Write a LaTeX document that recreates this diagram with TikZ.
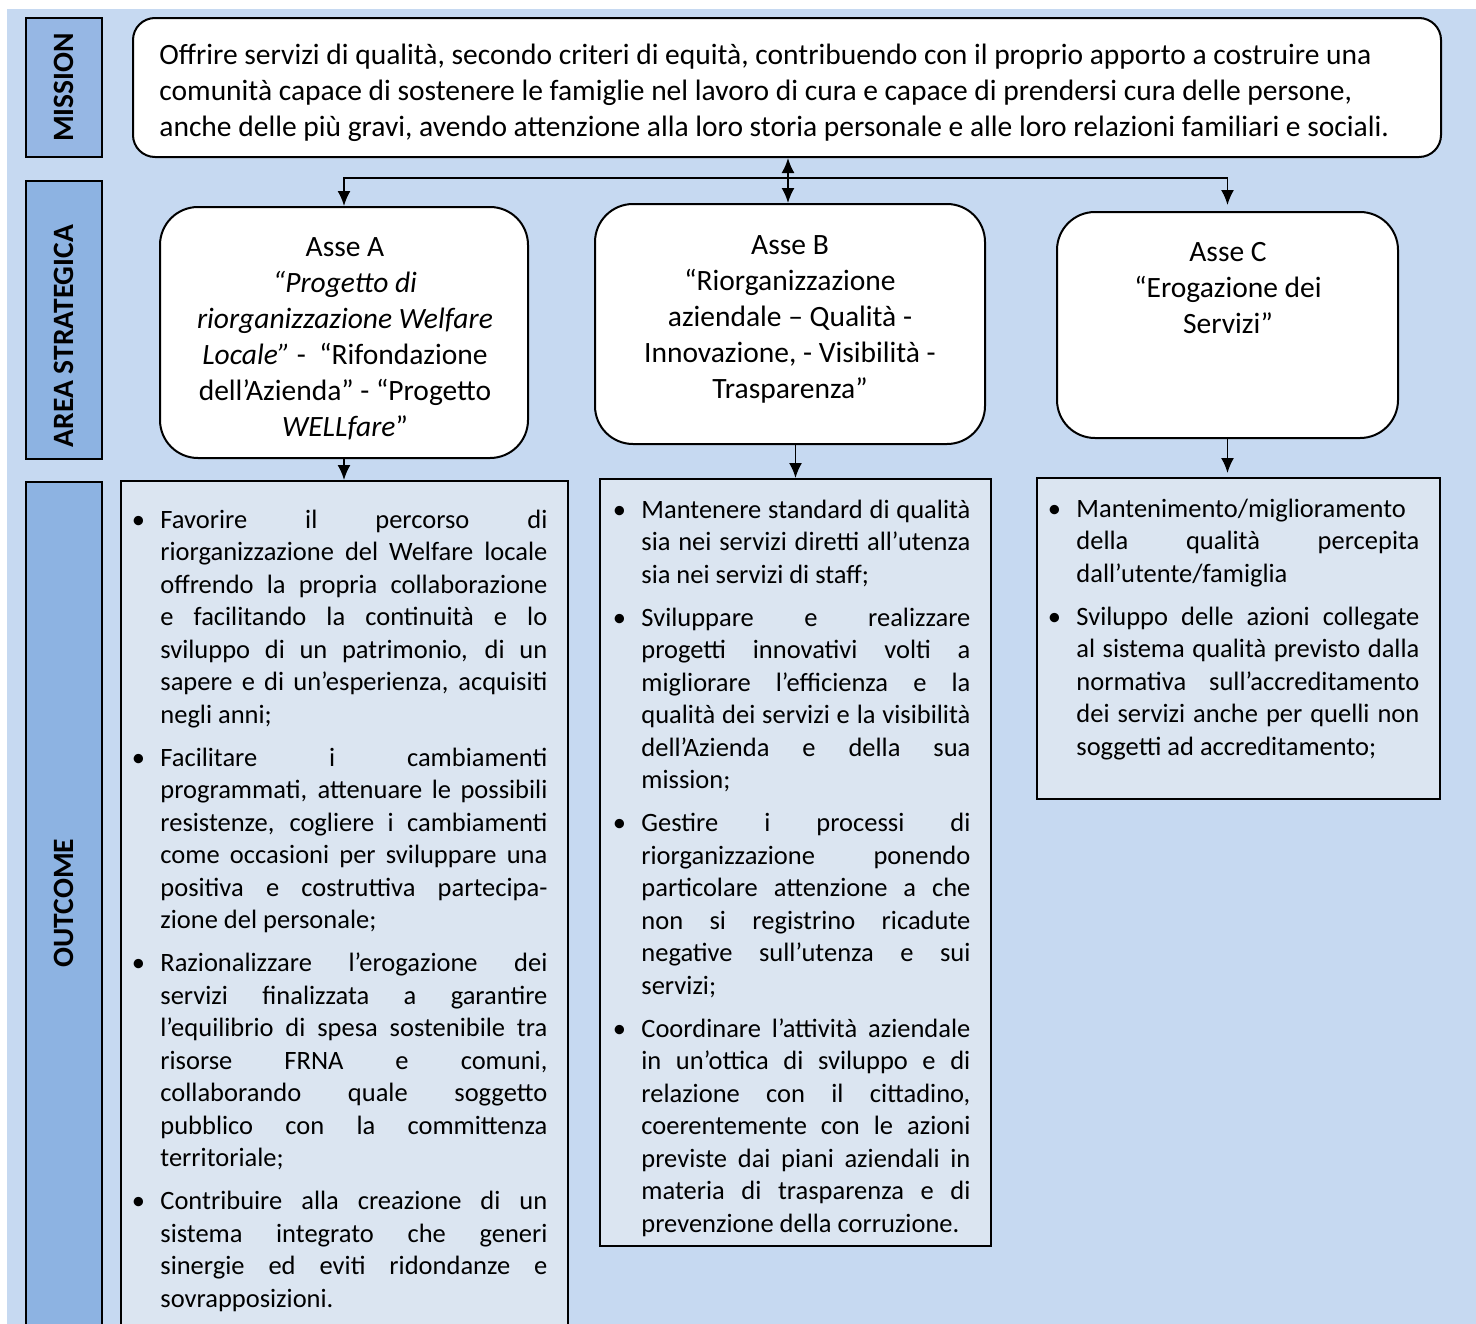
\documentclass[tikz,border=0pt]{standalone}
\usepackage{fontspec}
\setmainfont{Carlito}
\usetikzlibrary{arrows.meta}
\definecolor{bgblue}{HTML}{C6D9F1}
\definecolor{labblue}{HTML}{8DB3E2}
\definecolor{labmis}{RGB}{150,183,228}
\definecolor{outfill}{HTML}{DBE5F1}
\newlength\colw
\newcommand\jl[1]{\hbox to\colw{\spaceskip=.226em plus 1fil\strut#1}}
\newcommand\jf[1]{\hbox to\colw{\spaceskip=.226em plus 1fil\strut#1\hfill}}
\newcommand\bl[1]{\hbox to\colw{\spaceskip=.226em plus 1fil\strut\llap{\textbullet\hskip7.7pt}#1}}
\newcommand\blf[1]{\hbox to\colw{\spaceskip=.226em plus 1fil\strut\llap{\textbullet\hskip7.7pt}#1\hfill}}
\newcommand\igap{\vskip5.25pt}
\begin{document}
\begin{tikzpicture}[x=0.5pt,y=-0.5pt,
  arr/.style={-{Latex[length=7.5pt,width=6.5pt]}, line width=0.9pt},
  darr/.style={{Latex[length=7.5pt,width=6.5pt]}-{Latex[length=7.5pt,width=6.5pt]}, line width=0.9pt},
  lab/.style={draw, line width=1pt, fill=labblue, minimum width=38pt, inner sep=0pt},
  labtxt/.style={rotate=90, font=\bfseries\fontsize{14.75pt}{18pt}\selectfont, inner sep=0pt},
  rbox/.style={draw, line width=1pt, fill=white, inner sep=0pt},
  obox/.style={draw, line width=1pt, fill=outfill, inner sep=0pt},
  bigtxt/.style={font=\fontsize{14.75pt}{18pt}\selectfont, inner sep=0pt},
  otxt/.style={font=\fontsize{13.25pt}{16.25pt}\selectfont, inner sep=0pt, anchor=north west}]
\useasboundingbox (0,0) rectangle (1476,1323);
\clip (0,0) rectangle (1476,1323);
\fill[bgblue] (7,9) rectangle (1476,1330);

% left labels
\node[lab, fill=labmis, minimum height=69.5pt] (labM) at (64,87.5) {};
\node[lab, minimum height=139pt] (labA) at (64,320) {};
\node[lab, minimum height=429pt] (labO) at (64,911) {};
\node[labtxt] (tM) at (64,87.5) {MISSION};
\node[labtxt] (tA) at (64,336) {AREA STRATEGICA};
\node[labtxt] (tO) at (64,903) {OUTCOME};

% mission
\node[rbox, rounded corners=11pt, minimum width=654pt, minimum height=69.5pt] (mission) at (787,87.5) {};
\node[bigtxt, align=left, anchor=west] (missiontxt) at (159,93.5) {%
\strut Offrire servizi di qualità, secondo criteri di equità, contribuendo con il proprio apporto a costruire una\\
\strut comunità capace di sostenere le famiglie nel lavoro di cura e capace di prendersi cura delle persone,\\
\strut anche delle più gravi, avendo attenzione alla loro storia personale e alle loro relazioni familiari e sociali.};

% assi
\node[rbox, rounded corners=19pt, minimum width=184pt, minimum height=125.5pt] (asseA) at (344,332.5) {};
\node[rbox, rounded corners=19pt, minimum width=195pt, minimum height=120pt] (asseB) at (790,324) {};
\node[rbox, rounded corners=19pt, minimum width=170.5pt, minimum height=113pt] (asseC) at (1227.5,325) {};

\node[bigtxt, align=center] (asseAtxt) at (345,339) {%
\strut Asse A\\
\strut\textit{“Progetto di}\\
\strut\textit{riorganizzazione Welfare}\\
\strut\textit{Locale”} -~ “Rifondazione\\
\strut dell’Azienda” - “Progetto\\
\strut\textit{WELLfare}”};
\node[bigtxt, align=center] (asseBtxt) at (790,319) {%
\strut Asse B\\
\strut “Riorganizzazione\\
\strut aziendale – Qualità -\\
\strut Innovazione, - Visibilità -\\
\strut Trasparenza”};
\node[bigtxt, align=center] (asseCtxt) at (1228,290) {%
\strut Asse C\\
\strut “Erogazione dei\\
\strut Servizi”};

% outcome boxes
\node[obox, minimum width=223.5pt, minimum height=429.5pt] (outA) at (344.5,910.5) {};
\node[obox, minimum width=195.5pt, minimum height=383.5pt] (outB) at (795.5,862.5) {};
\node[obox, minimum width=201.5pt, minimum height=160.5pt] (outC) at (1238.5,638.5) {};

\node[otxt, text width=193.5pt] (outAtxt) at (160,505) {%
\setlength\colw{193.5pt}%
\bl{Favorire il percorso di}
\jl{riorganizzazione del Welfare locale}
\jl{offrendo la propria collaborazione}
\jl{e facilitando la continuità e lo}
\jl{sviluppo di un patrimonio, di un}
\jl{sapere e di un’esperienza, acquisiti}
\jf{negli anni;}
\igap
\bl{Facilitare i cambiamenti}
\jl{programmati, attenuare le possibili}
\jl{resistenze, cogliere i cambiamenti}
\jl{come occasioni per sviluppare una}
\jl{positiva e costruttiva partecipa-}
\jf{zione del personale;}
\igap
\bl{Razionalizzare l’erogazione dei}
\jl{servizi finalizzata a garantire}
\jl{l’equilibrio di spesa sostenibile tra}
\jl{risorse FRNA e comuni,}
\jl{collaborando quale soggetto}
\jl{pubblico con la committenza}
\jf{territoriale;}
\igap
\bl{Contribuire alla creazione di un}
\jl{sistema integrato che generi}
\jl{sinergie ed eviti ridondanze e}
\jf{sovrapposizioni.}};

\node[otxt, text width=164.5pt] (outBtxt) at (641,495) {%
\setlength\colw{164.5pt}%
\bl{Mantenere standard di qualità}
\jl{sia nei servizi diretti all’utenza}
\jf{sia nei servizi di staff;}
\igap
\bl{Sviluppare e realizzare}
\jl{progetti innovativi volti a}
\jl{migliorare l’efficienza e la}
\jl{qualità dei servizi e la visibilità}
\jl{dell’Azienda e della sua}
\jf{mission;}
\igap
\bl{Gestire i processi di}
\jl{riorganizzazione ponendo}
\jl{particolare attenzione a che}
\jl{non si registrino ricadute}
\jl{negative sull’utenza e sui}
\jf{servizi;}
\igap
\bl{Coordinare l’attività aziendale}
\jl{in un’ottica di sviluppo e di}
\jl{relazione con il cittadino,}
\jl{coerentemente con le azioni}
\jl{previste dai piani aziendali in}
\jl{materia di trasparenza e di}
\jf{prevenzione della corruzione.}};

\node[otxt, text width=171.5pt] (outCtxt) at (1076,494) {%
\setlength\colw{171.5pt}%
\blf{Mantenimento/miglioramento}
\jl{della qualità percepita}
\jf{dall’utente/famiglia}
\igap
\bl{Sviluppo delle azioni collegate}
\jl{al sistema qualità previsto dalla}
\jl{normativa sull’accreditamento}
\jl{dei servizi anche per quelli non}
\jf{soggetti ad accreditamento;}};

% connectors
\coordinate (hub) at (788,178);
\draw[arr] (hub) -| (asseA.north);
\draw[arr, shorten >=3pt] (hub) -| (asseC.north);
\draw[darr] (hub |- mission.south) -- (hub |- asseB.north);
\draw[arr] (asseA.south) -- (asseA.south |- outA.north);
\draw[arr] (outB.north |- asseB.south) -- (outB.north);
\draw[arr, shorten >=2pt] (asseC.south) -- (asseC.south |- outC.north);
\end{tikzpicture}
\end{document}
